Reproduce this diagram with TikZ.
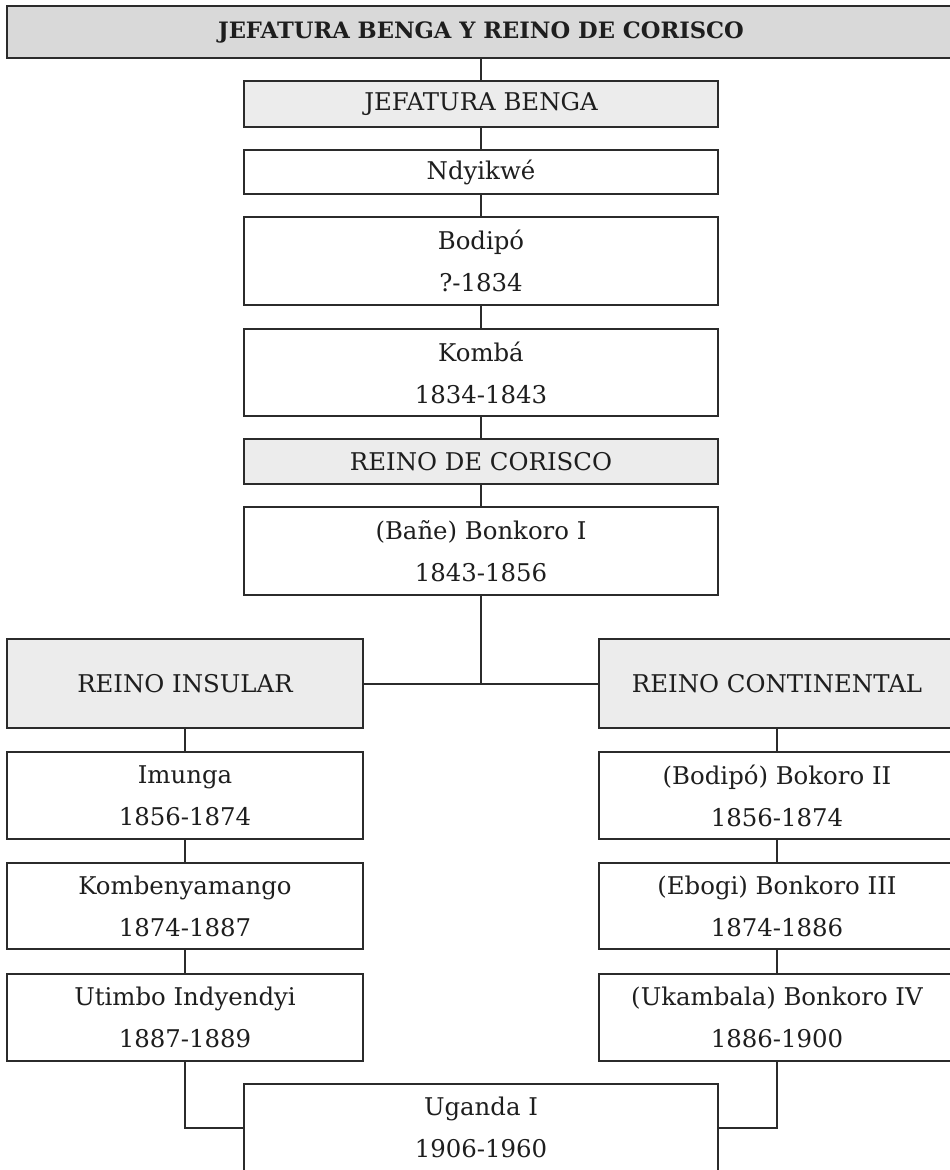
\documentclass[tikz,border=0pt]{standalone}
\usepackage{fontspec}
\setmainfont{DejaVu Serif}
\begin{document}
\begin{tikzpicture}[x=1pt,y=-1pt,
  every node/.style={text=txt},
  box/.style={draw=bord, line width=2.2pt, fill=white, rectangle, inner sep=0pt,
    align=center, font=\fontsize{24.4}{42}\selectfont},
  mid/.style={box, minimum width=474pt},
  side/.style={box, minimum width=356pt},
  one/.style={minimum height=45pt},
  two/.style={minimum height=87pt},
  hdr/.style={fill=hdrfill},
  link/.style={draw=bord, line width=2pt}]
\definecolor{bord}{HTML}{2B2B2B}
\definecolor{txt}{HTML}{1E1E1E}
\definecolor{hdrfill}{HTML}{ECECEC}
\definecolor{topfill}{HTML}{D9D9D9}
\useasboundingbox (0,0) rectangle (950,1170);
\clip (0,0) rectangle (950,1170);
% nodes
\node[box, hdr, fill=topfill, minimum width=948pt, minimum height=52pt,
      font=\fontsize{22.6}{26}\selectfont\bfseries] (top) at (481,32) {JEFATURA BENGA Y REINO DE CORISCO};
\node[mid, hdr, minimum height=46pt] (jb) at (481,104) {JEFATURA BENGA};
\node[mid, minimum height=44pt] (ndy) at (481,172) {Ndyikwé};
\node[mid, minimum height=88pt] (bod) at (481,261) {Bodipó\\?-1834};
\node[mid, two] (kom) at (481,372.5) {Kombá\\1834-1843};
\node[mid, hdr, one] (rdc) at (481,461.5) {REINO DE CORISCO};
\node[mid, minimum height=88pt] (bon1) at (481,551) {(Bañe) Bonkoro I\\1843-1856};
\node[side, hdr, minimum height=89pt] (ins) at (185,683.5) {REINO INSULAR};
\node[side, hdr, minimum height=89pt] (cont) at (777,683.5) {REINO CONTINENTAL};
\node[side, two] (imu) at (185,795.5) {Imunga\\1856-1874};
\node[side, minimum height=86pt] (kmb) at (185,906) {Kombenyamango\\1874-1887};
\node[side, two] (uti) at (185,1017.5) {Utimbo Indyendyi\\1887-1889};
\node[side, two] (bok2) at (777,795.5) {(Bodipó) Bokoro II\\1856-1874};
\node[side, minimum height=86pt] (bon3) at (777,906) {(Ebogi) Bonkoro III\\1874-1886};
\node[side, two] (bon4) at (777,1017.5) {(Ukambala) Bonkoro IV\\1886-1900};
\node[mid, two] (uga) at (481,1127.5) {Uganda I\\1906-1960};
% connectors
\draw[link] (top.south) -- (jb.north);
\draw[link] (jb.south) -- (ndy.north);
\draw[link] (ndy.south) -- (bod.north);
\draw[link] (bod.south) -- (kom.north);
\draw[link] (kom.south) -- (rdc.north);
\draw[link] (rdc.south) -- (bon1.north);
\draw[link] (bon1.south) -- (bon1.south |- ins.east);
\draw[link] (ins.east) -- (cont.west);
\draw[link] (ins.south) -- (imu.north);
\draw[link] (imu.south) -- (kmb.north);
\draw[link] (kmb.south) -- (uti.north);
\draw[link] (cont.south) -- (bok2.north);
\draw[link] (bok2.south) -- (bon3.north);
\draw[link] (bon3.south) -- (bon4.north);
\draw[link] (uti.south) |- (uga.west);
\draw[link] (bon4.south) |- (uga.east);
\end{tikzpicture}
\end{document}
